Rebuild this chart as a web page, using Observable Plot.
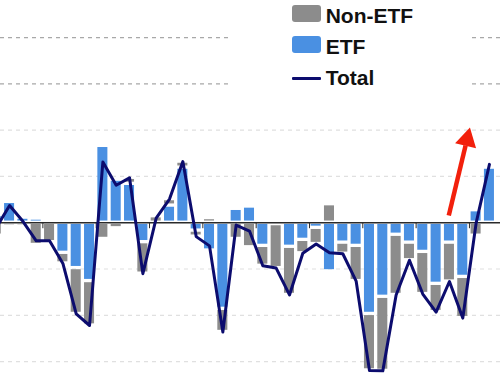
<!DOCTYPE html>
<html><head><meta charset="utf-8">
<script src="https://cdn.jsdelivr.net/npm/d3@7"></script>
<script src="https://cdn.jsdelivr.net/npm/@observablehq/plot@0.6"></script>
<style>
html,body{margin:0;padding:0;background:#fff;overflow:hidden}
#wrap{position:relative;width:500px;height:375px}
#wrap svg{display:block}
#legend{position:absolute;left:230px;top:0;width:240px;height:100px;background:#fff;font-family:"Liberation Sans",Arial,sans-serif;font-weight:bold;font-size:21px;color:#111}
.sw{position:absolute;left:62px;width:29px;height:17px;border-radius:3px}
.lab{position:absolute;left:95.7px;line-height:21px;white-space:nowrap}
</style></head><body><div id="wrap"></div>
<script>
// periods (bars), left to right
const periods = d3.range(1, 39);
// ETF flows (gridline step = 10 units)
const etfFlows = [1.7, 4.5, 1.1, 0.9, 0.3, -6.5, -9.8, -12.6, 16.6, 9.3,
  8.4, -4.2, -0.4, 3.7, 11.9, -1.7, -6.0, -18.6, 3.0, 3.5,
  -5.0, -0.3, -5.2, -3.7, -1.1, -10.5, -4.3, -5.0, -19.7, -16.0,
  -2.6, -4.3, -6.3, -13.2, -4.3, -11.7, 2.7, 11.9];
// Non-ETF flows
const nonEtfFlows = [-2.8, -0.8, -0.8, -4.8, -4.2, -2.3, -9.9, -9.6, -3.5, -1.2,
  1.3, -6.8, 1.4, 1.4, 1.3, -1.3, 1.0, -5.0, -3.5, -5.3,
  -4.3, -9.5, -10.4, -2.9, -3.5, 4.0, -2.4, -7.6, -12.2, -16.0,
  -13.0, -3.8, -9.1, -6.1, -8.4, -8.9, -2.8, 0.7];
const seriesNames = ["ETF", "Non-ETF"];
const seriesColors = ["#4a90e2", "#8c8c8c"];
const totalName = "Total";
const totalColor = "#0c0c6e";
const arrowColor = "#f2200c";
// horizontal gridlines
const gridUpper = [40, 30];
const gridLower = [20, 10, -10, -20, -30];
// period boundaries with tick marks on the zero line
const tickBoundaries = [5, 9, 13, 17, 21, 25, 29, 33, 37];
// red annotation arrow (tail -> head), in data units
const arrowNote = [{x1: 35.45, y1: 1.55, x2: 36.71, y2: 16.7, hx: 36.82, hy: 17.95, angle: 13.5}];

const rows = [];
seriesNames.forEach((s, k) => {
  const vals = k === 0 ? etfFlows : nonEtfFlows;
  periods.forEach((p, i) => rows.push({period: p, series: s, value: vals[i]}));
});
const totals = periods.map((p, i) => ({period: p, mid: p + 0.5, total: etfFlows[i] + nonEtfFlows[i]}));

const chart = Plot.plot({
  width: 500,
  height: 375,
  margin: 0,
  x: {domain: [1.82, 39.33], axis: null},
  y: {domain: [-33, 48], axis: null},
  color: {domain: seriesNames, range: seriesColors},
  marks: [
    Plot.ruleY(gridUpper, {stroke: "#a8a8a8", strokeWidth: 1.2, strokeDasharray: "4,4"}),
    Plot.ruleY(gridLower, {stroke: "#e0e0e0", strokeWidth: 1.2, strokeDasharray: "4,4"}),
    Plot.rectY(rows, {x1: "period", x2: d => d.period + 1, y: "value", fill: "series", inset: 1.65, clip: true}),
    Plot.ruleY([0], {stroke: "#2a2a2a", strokeWidth: 1.5}),
    Plot.ruleX(tickBoundaries, {x: d => d, y1: 0, y2: 0, insetBottom: -6, stroke: "#2a2a2a", strokeWidth: 1}),
    Plot.line(totals, {x: "mid", y: "total", stroke: totalColor, strokeWidth: 3, clip: true}),
    Plot.link(arrowNote, {x1: "x1", y1: "y1", x2: "x2", y2: "y2", stroke: arrowColor, strokeWidth: 4.5}),
    Plot.dot(arrowNote, {x: "hx", y: "hy", symbol: "triangle", r: 8, fill: arrowColor, rotate: "angle"})
  ]
});

const wrap = document.getElementById("wrap");
wrap.appendChild(chart);
const legend = document.createElement("div");
legend.id = "legend";
const items = [
  {label: seriesNames[1], color: seriesColors[1], kind: "box"},
  {label: seriesNames[0], color: seriesColors[0], kind: "box"},
  {label: totalName, color: totalColor, kind: "line"}
];
items.forEach((it, k) => {
  const top = 5 + k * 31;
  const sw = document.createElement("div");
  sw.className = "sw";
  sw.style.background = it.color;
  if (it.kind === "box") { sw.style.top = top + "px"; }
  else { sw.style.top = (top + 9.5) + "px"; sw.style.height = "3px"; sw.style.borderRadius = "1px"; }
  legend.appendChild(sw);
  const lab = document.createElement("div");
  lab.className = "lab";
  lab.style.top = (top - 0.5) + "px";
  lab.textContent = it.label;
  legend.appendChild(lab);
});
wrap.appendChild(legend);
</script></body></html>
